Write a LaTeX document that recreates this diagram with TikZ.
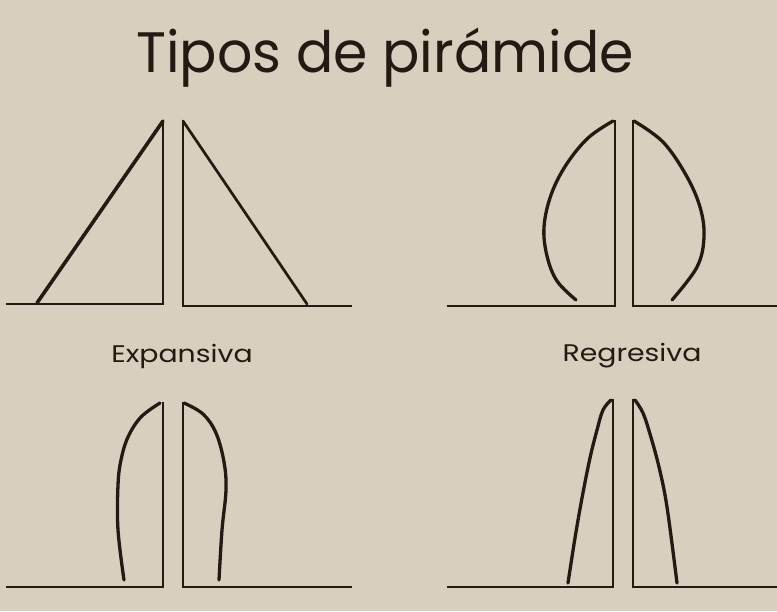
\documentclass[tikz,border=0pt]{standalone}
\usepackage{fontspec}
\setmainfont{Poppins}
\definecolor{burlap}{HTML}{D8CFBE}
\definecolor{ink}{HTML}{231A14}
\begin{document}
\begin{tikzpicture}[x=1pt,y=-1pt,
  axisline/.style={draw=ink,line width=2pt},
  curveline/.style={draw=ink,line width=3.3pt,line cap=round,line join=round},
  ttl/.style={font=\fontsize{57}{60}\selectfont,text=ink,inner sep=0pt,anchor=base,xscale=0.97},
  lbl/.style={font=\fontsize{24}{26}\selectfont,text=ink,inner sep=0pt,anchor=base,xscale=1.18}]
\fill[burlap] (0,0) rectangle (777,611);
\useasboundingbox (0,0) rectangle (777,611);
\node[ttl] (title) at (385,72) {Tipos de pirámide};
\node[lbl] (exp) at (182,362) {Expansiva};
\node[lbl] (reg) at (632,361) {Regresiva};
% top-left: triangle
\draw[axisline] (6,304) -- (163,304) -- (163,120);
\draw[axisline] (183,120) -- (183,306) -- (352,306);
\draw[curveline,line width=3.6pt] (163,121) -- (37,303);
\draw[curveline,line width=2.7pt] (183,121) -- (307,304);
% top-right
\draw[axisline] (447,306) -- (615,306) -- (615,120);
\draw[axisline] (633,120) -- (633,306) -- (777,306);
\draw[curveline] plot[smooth,tension=0.6] coordinates {(613,121) (588,138) (566,165) (551,195) (544,227) (547,256) (557,281) (576,300)};
\draw[curveline] plot[smooth,tension=0.6] coordinates {(634,121) (663,142) (686,175) (700,207) (704,237) (697,267) (672,300)};
% bottom-left
\draw[axisline] (6,587) -- (163,587) -- (163,402);
\draw[axisline] (183,402) -- (183,587) -- (352,587);
\draw[curveline] plot[smooth,tension=0.6] coordinates {(160,403) (141,417) (128,437) (121,460) (118,485) (118,530) (124,580)};
\draw[curveline] plot[smooth,tension=0.6] coordinates {(184,403) (203,414) (216,433) (224,462) (226,490) (222,530) (219,580)};
% bottom-right
\draw[axisline] (447,587) -- (613,587) -- (613,399);
\draw[axisline] (633,399) -- (633,587) -- (777,587);
\draw[curveline] plot[smooth,tension=0.6] coordinates {(611,400) (603,410) (597,430) (590,458) (582,498) (575,538) (568,583)};
\draw[curveline] plot[smooth,tension=0.6] coordinates {(635,400) (643,413) (650,434) (659,467) (667,507) (677,583)};
\end{tikzpicture}
\end{document}
